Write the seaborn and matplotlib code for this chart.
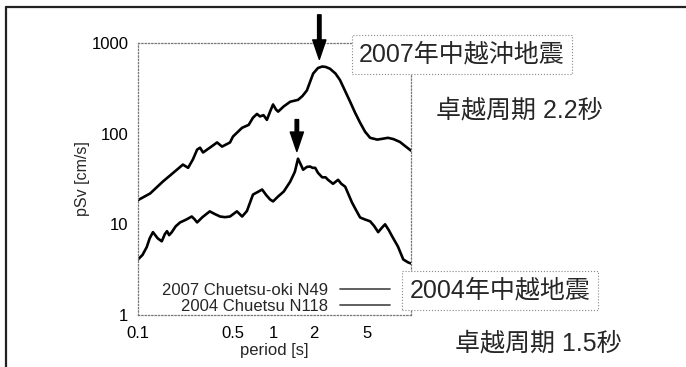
import matplotlib
matplotlib.use("Agg")
import matplotlib.pyplot as plt
from matplotlib.lines import Line2D
import pandas as pd
import seaborn as sns

# Pseudo-velocity response spectra (h = 5 %), period [s] vs pSv [cm/s]
period_2007 = [0.100, 0.123, 0.153, 0.194, 0.215, 0.235, 0.255, 0.274, 0.288, 0.303,
               0.340, 0.385, 0.419, 0.480, 0.505, 0.589, 0.660, 0.710, 0.760, 0.800,
               0.850, 0.900, 0.950, 1.000, 1.050, 1.090, 1.200, 1.340, 1.530, 1.650,
               1.780, 1.980, 2.150, 2.310, 2.450, 2.640, 2.900, 3.130, 3.400, 3.720,
               4.050, 4.410, 4.800, 5.230, 5.900, 6.500, 7.100, 7.800, 8.700, 9.500,
               10.50]
psv_2007 = [18.5, 21.9, 29.7, 40.0, 45.6, 42.0, 52.0, 66.7, 70.0, 62.0,
            70.0, 80.0, 72.0, 80.0, 93.0, 116.0, 125.0, 150.0, 165.0, 155.0,
            160.0, 142.0, 175.0, 210.0, 185.0, 175.0, 200.0, 225.0, 236.0, 260.0,
            300.0, 460.0, 530.0, 550.0, 545.0, 520.0, 460.0, 390.0, 300.0, 225.0,
            170.0, 132.0, 105.0, 90.0, 86.0, 88.0, 90.0, 87.0, 81.0, 73.0,
            65.0]

period_2004 = [0.100, 0.108, 0.116, 0.122, 0.129, 0.140, 0.150, 0.158, 0.164, 0.170,
               0.178, 0.190, 0.205, 0.228, 0.250, 0.262, 0.274, 0.300, 0.340, 0.370,
               0.405, 0.440, 0.480, 0.540, 0.590, 0.640, 0.710, 0.760, 0.830, 0.890,
               0.950, 1.000, 1.090, 1.200, 1.340, 1.450, 1.530, 1.600, 1.670, 1.780,
               1.880, 1.960, 2.050, 2.150, 2.310, 2.450, 2.550, 2.780, 3.030, 3.200,
               3.420, 3.840, 4.100, 4.410, 4.800, 5.230, 5.600, 6.000, 6.400, 6.750,
               7.200, 7.600, 8.400, 9.200, 10.00, 10.50]
psv_2004 = [4.1, 4.6, 5.6, 7.0, 8.2, 7.0, 6.5, 7.8, 8.4, 7.6,
            8.2, 9.5, 10.5, 11.3, 12.2, 11.4, 10.5, 12.0, 13.9, 13.0,
            12.2, 12.0, 12.2, 13.9, 12.2, 14.0, 21.3, 22.5, 24.2, 21.0,
            18.8, 17.9, 20.3, 23.0, 29.6, 38.0, 53.0, 46.0, 40.0, 43.0,
            43.4, 42.0, 42.0, 37.0, 33.0, 33.0, 31.0, 28.0, 31.0, 28.0,
            26.0, 17.4, 14.5, 11.9, 11.3, 10.8, 9.6, 8.2, 9.2, 10.0,
            8.6, 7.4, 5.7, 4.1, 3.8, 3.7]

series_labels = ["2007 Chuetsu-oki N49", "2004 Chuetsu N118"]
event_names = ["2007年中越沖地震", "2004年中越地震"]
peak_periods = [2.2, 1.5]

x_ticks = [0.1, 0.5, 1, 2, 5]
x_tick_labels = ["0.1", "0.5", "1", "2", "5"]
y_ticks = [1, 10, 100, 1000]
y_tick_labels = ["1", "10", "100", "1000"]

sns.set_style("white")
plt.rcParams["font.family"] = ["Liberation Sans", "Noto Sans CJK JP"]

df = pd.concat([
    pd.DataFrame({"period": period_2007, "psv": psv_2007, "record": series_labels[0]}),
    pd.DataFrame({"period": period_2004, "psv": psv_2004, "record": series_labels[1]}),
], ignore_index=True)

W, H = 686, 367
fig = plt.figure(figsize=(W / 100, H / 100), dpi=100)
ax = fig.add_axes([138 / W, 1 - 315 / H, 273 / W, 272 / H])

sns.lineplot(data=df, x="period", y="psv", hue="record", palette=["black", "black"],
             estimator=None, linewidth=1.9, legend=False, ax=ax)

ax.set_xscale("log")
ax.set_yscale("log")
ax.set_xlim(0.1, 10.5)
ax.set_ylim(1, 1000)
ax.minorticks_off()
ax.set_xticks(x_ticks)
ax.set_xticklabels(x_tick_labels)
ax.set_yticks(y_ticks)
ax.set_yticklabels(y_tick_labels)
ax.tick_params(axis="both", length=0, labelsize=12, colors="black")
ax.tick_params(axis="x", pad=8)
ax.tick_params(axis="y", pad=7)
ax.set_xlabel("period [s]", fontsize=12, labelpad=1)
ax.set_ylabel("pSv [cm/s]", fontsize=11.5, labelpad=1)
for s in ax.spines.values():
    s.set_linestyle(":")
    s.set_color("#777777")
    s.set_linewidth(0.9)

handles = [Line2D([], [], color="#444444", lw=1.2) for _ in series_labels]
ax.legend(handles, series_labels, loc="lower right", bbox_to_anchor=(252 / 273, 0.005),
          frameon=False, markerfirst=False, fontsize=12, handlelength=3.0,
          handletextpad=0.7, labelspacing=0.05, borderpad=0, borderaxespad=0)

# Arrows marking the predominant period of each record
for per, psv in zip(peak_periods, [psv_2007, psv_2004]):
    tip = max(psv) * 1.2
    tail = tip * (3.1 if max(psv) > 100 else 2.25)
    ax.annotate("", xy=(per, tip), xytext=(per, tail), annotation_clip=False,
                arrowprops=dict(width=2.5, headwidth=9.5, headlength=14,
                                facecolor="black", edgecolor="black", shrink=0))

box = dict(boxstyle="square,pad=0.3", fc="white", ec="#888888", ls=":", lw=0.8)
cjk = ["Liberation Sans", "Noto Sans CJK JP"]
fig.text(462 / W, 1 - 54 / H, event_names[0], ha="center", va="center",
         fontsize=18, family=cjk, bbox=box, zorder=5)
fig.text(519 / W, 1 - 110 / H, f"卓越周期 {peak_periods[0]}秒", ha="center", va="center",
         fontsize=18, family=cjk)
fig.text(500 / W, 1 - 290 / H, event_names[1], ha="center", va="center",
         fontsize=18, family=cjk, bbox=box, zorder=5)
fig.text(538 / W, 1 - 343 / H, f"卓越周期 {peak_periods[1]}秒", ha="center", va="center",
         fontsize=18, family=cjk)

# Page frame (top and left rules)
fig.add_artist(Line2D([6 / W, 1], [1 - 6.5 / H, 1 - 6.5 / H], transform=fig.transFigure,
                      color="#222222", lw=1.6))
fig.add_artist(Line2D([6 / W, 6 / W], [0, 1 - 6.5 / H], transform=fig.transFigure,
                      color="#222222", lw=1.6))

fig.savefig("out.png", dpi=100)
